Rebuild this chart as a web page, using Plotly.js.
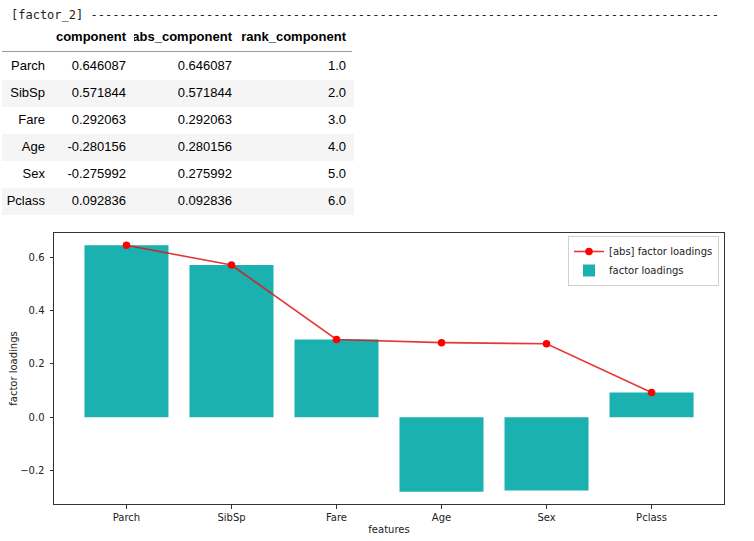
<!DOCTYPE html>
<html>
<head>
<meta charset="utf-8">
<script src="https://cdn.plot.ly/plotly-3.0.1.min.js"></script>
<style>
  html, body { margin: 0; padding: 0; background: #fff; }
  #chart { width: 754px; height: 541px; }
</style>
</head>
<body>
<div id="chart"></div>
<script>
// Factor 2 loadings per feature
const features = ['Parch', 'SibSp', 'Fare', 'Age', 'Sex', 'Pclass'];
const component = [0.646087, 0.571844, 0.292063, -0.280156, -0.275992, 0.092836];
const absComponent = [0.646087, 0.571844, 0.292063, 0.280156, 0.275992, 0.092836];
const rankComponent = [1.0, 2.0, 3.0, 4.0, 5.0, 6.0];
const tableColumns = ['', 'component', 'abs_component', 'rank_component'];
const factorName = 'factor_2';

const W = 754, H = 541;
const px = x => x / W;          // horizontal pixel -> paper fraction
const py = y => 1 - y / H;      // vertical pixel (from top) -> paper fraction

// striped rows like a notebook DataFrame view
const rowFill = features.map((_, i) => (i % 2 === 1 ? '#f5f5f5' : 'rgba(0,0,0,0)'));

const tableTrace = {
  type: 'table',
  domain: { x: [px(2), px(354)], y: [py(224), py(23.7)] },
  columnwidth: [51, 81, 106, 114],
  header: {
    values: tableColumns,
    align: 'right',
    height: 29,
    fill: { color: 'rgba(0,0,0,0)' },
    line: { width: 0, color: 'rgba(0,0,0,0)' },
    font: { family: 'Liberation Sans, Arial, sans-serif', size: 13, color: '#000', weight: 700 }
  },
  cells: {
    values: [
      features,
      component.map(v => v.toFixed(6)),
      absComponent.map(v => v.toFixed(6)),
      rankComponent.map(v => v.toFixed(1))
    ],
    align: 'right',
    height: 27,
    fill: { color: tableColumns.map(() => rowFill) },
    line: { width: 0, color: 'rgba(0,0,0,0)' },
    font: { family: 'Liberation Sans, Arial, sans-serif', size: 13, color: '#000' }
  }
};

const absTrace = {
  type: 'scatter',
  mode: 'lines+markers',
  name: '[abs] factor loadings',
  x: features,
  y: absComponent,
  line: { color: 'rgba(225,20,20,0.85)', width: 1.6 },
  marker: { color: '#ff0000', size: 7.5 },
  xaxis: 'x', yaxis: 'y'
};

const barTrace = {
  type: 'bar',
  name: 'factor loadings',
  x: features,
  y: component,
  marker: { color: '#1bb1b1', line: { width: 0 } },
  xaxis: 'x', yaxis: 'y'
};

const axisCommon = {
  showline: true,
  mirror: true,
  linecolor: '#333',
  linewidth: 1,
  ticks: 'outside',
  ticklen: 3.5,
  tickwidth: 1,
  tickcolor: '#333',
  showgrid: false,
  zeroline: false,
  tickfont: { family: 'DejaVu Sans', size: 10, color: '#222' }
};

const layout = {
  width: W,
  height: H,
  margin: { l: 0, r: 0, t: 0, b: 0 },
  paper_bgcolor: '#fff',
  plot_bgcolor: '#fff',
  bargap: 0.2,
  showlegend: true,
  font: { family: 'DejaVu Sans', size: 10, color: '#222' },
  xaxis: Object.assign({}, axisCommon, {
    domain: [px(54), px(724)],
    type: 'category',
    range: [-0.69, 5.69],
    title: { text: 'features', standoff: 4, font: { family: 'DejaVu Sans', size: 10, color: '#222' } }
  }),
  yaxis: Object.assign({}, axisCommon, {
    domain: [py(504), py(233)],
    range: [-0.3265, 0.6924],
    tick0: 0,
    dtick: 0.2,
    tickformat: '.1f',
    ticklabelstandoff: 3,
    title: { text: 'factor loadings', standoff: 0, font: { family: 'DejaVu Sans', size: 10, color: '#222' } }
  }),
  legend: {
    x: px(719), xanchor: 'right',
    y: py(236), yanchor: 'top',
    bgcolor: 'rgba(255,255,255,0.8)',
    bordercolor: '#d0d0d0',
    borderwidth: 1,
    font: { family: 'DejaVu Sans', size: 10, color: '#222' },
    traceorder: 'normal'
  },
  annotations: [{
    xref: 'paper', yref: 'paper',
    x: px(9), y: py(15),
    xanchor: 'left', yanchor: 'middle',
    showarrow: false,
    text: '[' + factorName + '] ' + '-'.repeat(87),
    font: { family: 'DejaVu Sans Mono, monospace', size: 12, color: '#222' }
  }],
  shapes: [{
    type: 'line',
    xref: 'paper', yref: 'paper',
    x0: px(2), x1: px(352), y0: py(51.5), y1: py(51.5),
    line: { color: '#9a9a9a', width: 1 }
  }]
};

Plotly.newPlot('chart', [tableTrace, absTrace, barTrace], layout, { staticPlot: true });
</script>
</body>
</html>
